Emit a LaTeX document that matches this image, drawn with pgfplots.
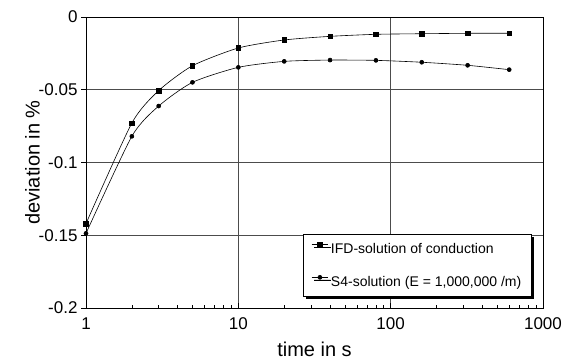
\documentclass[border=0pt]{standalone}
\usepackage{fontspec}
\setmainfont{Liberation Sans}
\usepackage{pgfplots}
\pgfplotsset{compat=1.18}
\usetikzlibrary{shadows}
\begin{document}
\begin{tikzpicture}
\begin{axis}[
  at={(0,0)}, anchor=south west,
  scale only axis, width=457pt, height=291pt,
  xmode=log, xmin=1, xmax=1000, ymin=-0.2, ymax=0,
  xtick={1,10,100,1000}, xticklabels={1,10,100,1000},
  ytick={-0.2,-0.15,-0.1,-0.05,0},
  yticklabels={-0.2,-0.15,-0.1,-0.05,0},
  xtick pos=bottom, ytick pos=left,
  xtick align=inside, ytick align=outside,
  major tick length=5pt, minor tick length=3pt,
  minor x tick num=8,
  xmajorgrids, ymajorgrids,
  grid style={black!70, line width=0.6pt},
  axis line style={black, line width=0.7pt},
  tick style={black, line width=0.6pt},
  tick label style={font=\fontsize{17}{19}\selectfont},
  xticklabel style={yshift=-6pt},
  label style={font=\fontsize{20}{22}\selectfont},
  xlabel={time in s}, ylabel={deviation in \%},
  xlabel style={yshift=-6pt},
  ylabel style={yshift=-8pt},
  legend style={at={(0.475,0.038)}, anchor=south west, draw=black, line width=0.6pt,
    fill=white, font=\fontsize{14}{16}\selectfont, row sep=17pt,
    inner xsep=8pt, inner ysep=7pt,
    nodes={inner xsep=2.5pt},
    drop shadow={shadow xshift=2.5pt, shadow yshift=-2.5pt, fill=black, opacity=1}},
  legend cell align=left,
  legend image code/.code={\draw[#1, sharp plot, mark repeat=2, mark phase=2, yshift=4.5pt] plot coordinates {(0cm,0cm) (0.29cm,0cm) (0.58cm,0cm)};},
]
\addplot[black, line width=0.6pt, smooth, tension=0.4, mark=square*, mark size=2.2pt] coordinates {
 (1,-0.142) (2,-0.0729) (3,-0.0506) (5,-0.0335) (10,-0.0213) (20,-0.0158)
 (40,-0.0133) (80,-0.0119) (160,-0.0115) (320,-0.0112) (600,-0.0112)};
\addlegendentry{IFD-solution of conduction}
\addplot[black, line width=0.6pt, smooth, tension=0.4, mark=*, mark size=2pt] coordinates {
 (1,-0.1487) (2,-0.082) (3,-0.0612) (5,-0.0449) (10,-0.0346) (20,-0.0305)
 (40,-0.0296) (80,-0.0298) (160,-0.0311) (320,-0.0332) (600,-0.0362)};
\addlegendentry{S4-solution (E = 1,000,000 /m)}
\end{axis}
\path (-86pt,-52pt) rectangle (493pt,308pt);
\end{tikzpicture}
\end{document}
